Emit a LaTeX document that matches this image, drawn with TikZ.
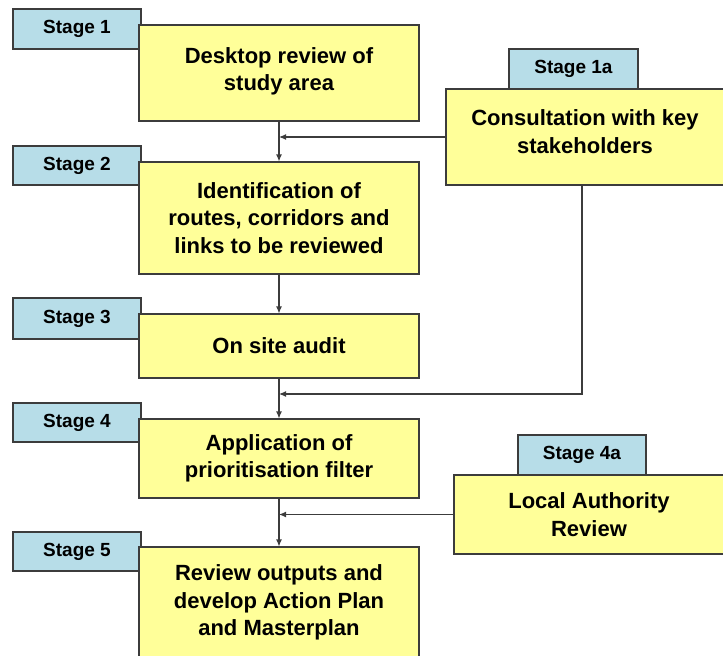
\documentclass[tikz,border=0pt]{standalone}
\usepackage{fontspec}
\setmainfont{Liberation Sans}
\usepackage{tikz}
\usetikzlibrary{arrows.meta}
\usetikzlibrary{positioning}

\definecolor{stagefill}{HTML}{B7DDE8}
\definecolor{taskfill}{HTML}{FFFF99}
\definecolor{edge}{HTML}{3C3C3C}

\tikzset{
    stagebox/.style={draw=edge, line width=1.1pt, fill=stagefill, minimum width=128pt,
        minimum height=40pt, inner sep=0pt, font=\fontsize{19}{27.5}\selectfont\bfseries},
    taskbox/.style={draw=edge, line width=1.1pt, fill=taskfill, align=center, inner sep=0pt,
        font=\fontsize{22}{27.5}\selectfont\bfseries},
    link/.style={draw=edge, line width=1.1pt, -{Latex[length=7pt,width=6pt]}}
}

\begin{document}
\begin{tikzpicture}[x=1pt, y=-1pt]
            \useasboundingbox (0,0) rectangle (723,656);
            \clip (0,0) rectangle (723,656);
            % main column
            \node[stagebox] (s1) at (77,29){Stage 1};
            \node[taskbox, minimum width=280pt, minimum height=96pt, text depth=8pt] (b1) at (279,73)
                {Desktop review of\\study area};
            \node[stagebox, minimum height=39pt] (s2) at (77,165.5){Stage 2};
            \node[taskbox, minimum width=280pt, minimum height=112pt] (b2) at (279,218)
                {Identification of\\routes, corridors and\\links to be reviewed};
            \node[stagebox, minimum height=41pt] (s3) at (77,318.5){Stage 3};
            \node[taskbox, minimum width=280pt, minimum height=64pt] (b3) at (279,346)
                {On site audit};
            \node[stagebox, minimum height=39pt] (s4) at (77,422.5){Stage 4};
            \node[taskbox, minimum width=280pt, minimum height=79pt] (b4) at (279,458.5)
                {Application of\\prioritisation filter};
            \node[stagebox, minimum height=39pt] (s5) at (77,551.5){Stage 5};
            \node[taskbox, minimum width=280pt, minimum height=111pt] (b5) at (279,602.5)
                {Review outputs and\\develop Action Plan\\and Masterplan};
            % side boxes
            \node[stagebox, minimum width=129pt] (s1a) at (573.5,69){Stage 1a};
            \node[taskbox, minimum width=278pt, minimum height=96pt, text depth=11pt] (b1a) at (585,137)
                {Consultation with key\\stakeholders};
            \node[stagebox] (s4a) at (582,455){Stage 4a};
            \node[taskbox, minimum width=270pt, minimum height=79pt] (b4a) at (589,514.5)
                {Local Authority\\Review};
            \coordinate (c1) at (582,394);

            \draw[link] (b1.south) -- (b2.north);
            \draw[link] (b2.south) -- (b3.north);
            \draw[link] (b3.south) -- (b4.north);
            \draw[link] (b4.south) -- (b5.north);
            \draw[link] (b1a.west) -- (b1a.west -| b1.south);
            \draw[link] (b1a.south -| c1) |- (b3.south |- c1);
            \draw[link] (b4a.west) -- (b4a.west -| b4.south);
        \end{tikzpicture}
\end{document}
